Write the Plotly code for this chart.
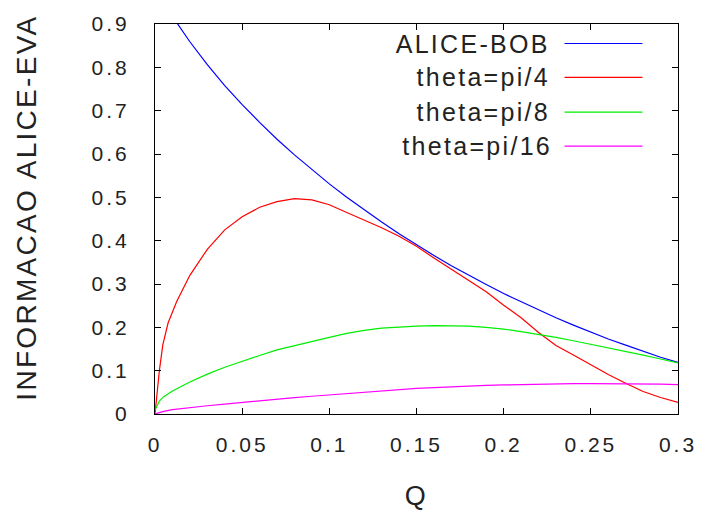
import plotly.graph_objects as go

# ---- data ----
q_bob = [0.01, 0.0125, 0.02, 0.03, 0.04, 0.05, 0.06, 0.07, 0.08, 0.09, 0.10,
         0.11, 0.12, 0.13, 0.14, 0.15, 0.16, 0.17, 0.18, 0.19, 0.20,
         0.21, 0.22, 0.23, 0.24, 0.25, 0.26, 0.27, 0.28, 0.29, 0.30]
alice_bob = [0.919, 0.903, 0.859, 0.806, 0.758, 0.714, 0.673, 0.634, 0.598, 0.564, 0.531,
             0.500, 0.471, 0.443, 0.416, 0.390, 0.366, 0.342, 0.320, 0.299, 0.278,
             0.259, 0.240, 0.222, 0.205, 0.189, 0.173, 0.159, 0.145, 0.131, 0.119]

q_pi4 = [0.0, 0.001, 0.0025, 0.0045, 0.0075, 0.0125, 0.02, 0.03, 0.04, 0.05, 0.06,
         0.07, 0.08, 0.09, 0.10, 0.11, 0.12, 0.13, 0.14, 0.15, 0.16, 0.17, 0.18,
         0.19, 0.20, 0.21, 0.22, 0.23, 0.24, 0.25, 0.26, 0.27, 0.28, 0.29, 0.30]
theta_pi4 = [0.0, 0.045, 0.10, 0.16, 0.21, 0.26, 0.32, 0.38, 0.425, 0.455, 0.477,
             0.490, 0.497, 0.494, 0.483, 0.465, 0.448, 0.430, 0.410, 0.387, 0.360, 0.334, 0.308,
             0.282, 0.251, 0.222, 0.188, 0.158, 0.136, 0.113, 0.091, 0.071, 0.052, 0.038, 0.027]

q_pi8 = [0.0, 0.0025, 0.005, 0.01, 0.02, 0.03, 0.04, 0.05, 0.06, 0.07, 0.08, 0.09, 0.10,
         0.11, 0.12, 0.13, 0.14, 0.15, 0.16, 0.17, 0.18, 0.19, 0.20,
         0.21, 0.22, 0.23, 0.24, 0.25, 0.26, 0.27, 0.28, 0.29, 0.30]
theta_pi8 = [0.009, 0.030, 0.040, 0.053, 0.074, 0.092, 0.108, 0.122, 0.135, 0.148, 0.158, 0.168, 0.177,
             0.186, 0.193, 0.198, 0.201, 0.203, 0.204, 0.204, 0.203, 0.200, 0.196,
             0.190, 0.184, 0.177, 0.169, 0.161, 0.153, 0.145, 0.136, 0.127, 0.118]

q_pi16 = [0.0, 0.005, 0.01, 0.02, 0.03, 0.04, 0.05, 0.06, 0.07, 0.08, 0.09, 0.10,
          0.11, 0.12, 0.13, 0.14, 0.15, 0.16, 0.17, 0.18, 0.19, 0.20,
          0.21, 0.22, 0.23, 0.24, 0.25, 0.26, 0.27, 0.28, 0.29, 0.30]
theta_pi16 = [0.0, 0.006, 0.010, 0.015, 0.019, 0.023, 0.027, 0.030, 0.034, 0.038, 0.041, 0.044,
              0.047, 0.051, 0.054, 0.057, 0.059, 0.061, 0.063, 0.065, 0.066, 0.067,
              0.068, 0.069, 0.069, 0.070, 0.070, 0.070, 0.070, 0.069, 0.069, 0.068]

series_names = ["ALICE-BOB", "theta=pi/4", "theta=pi/8", "theta=pi/16"]
series_colors = ["#0000ff", "#ff0000", "#00ee00", "#ff00ff"]
series_x = [q_bob, q_pi4, q_pi8, q_pi16]
series_y = [alice_bob, theta_pi4, theta_pi8, theta_pi16]

x_ticks = [0, 0.05, 0.1, 0.15, 0.2, 0.25, 0.3]
x_ticklabels = ["0", "0.05", "0.1", "0.15", "0.2", "0.25", "0.3"]
y_ticks = [0, 0.1, 0.2, 0.3, 0.4, 0.5, 0.6, 0.7, 0.8, 0.9]
y_ticklabels = ["0", "0.1", "0.2", "0.3", "0.4", "0.5", "0.6", "0.7", "0.8", "0.9"]

FONT = "Liberation Sans, Arial, sans-serif"
TXT = "#222222"

fig = go.Figure()
for xs, ys, name, col in zip(series_x, series_y, series_names, series_colors):
    fig.add_trace(go.Scatter(x=xs, y=ys, mode="lines", name=name,
                             line=dict(color=col, width=1.2), showlegend=False))

# manual gnuplot-style legend (text right-aligned, sample line to the right)
legend_rows_y = [0.950, 0.863, 0.774, 0.687]
for name, col, yy in zip(series_names, series_colors, legend_rows_y):
    fig.add_annotation(x=0.738, y=yy, xref="paper", yref="paper", text=name,
                       showarrow=False, xanchor="right", yanchor="middle",
                       font=dict(family=FONT, size=25, color=TXT))
    fig.add_shape(type="line", xref="paper", yref="paper", x0=0.783, x1=0.932,
                  y0=yy, y1=yy, line=dict(color=col, width=1.2))

# axis titles
fig.add_annotation(x=-0.246, y=0.53, xref="paper", yref="paper", text="INFORMACAO ALICE-EVA",
                   showarrow=False, textangle=-90, xanchor="center", yanchor="middle",
                   font=dict(family=FONT, size=28, color=TXT))
fig.add_annotation(x=0.5, y=-0.21, xref="paper", yref="paper", text="Q",
                   showarrow=False, xanchor="center", yanchor="middle",
                   font=dict(family=FONT, size=27, color=TXT))

axis_common = dict(showline=True, linecolor="black", linewidth=1, mirror="allticks",
                   ticks="inside", ticklen=6, tickcolor="black", tickwidth=1,
                   showgrid=False, zeroline=False,
                   tickfont=dict(family=FONT, size=21, color=TXT))

fig.update_xaxes(range=[0, 0.3], tickvals=x_ticks, ticktext=x_ticklabels,
                 ticklabelstandoff=12, **axis_common)
fig.update_yaxes(range=[0, 0.9], tickvals=y_ticks, ticktext=y_ticklabels,
                 ticklabelstandoff=20, **axis_common)

fig.update_layout(width=705, height=518, autosize=False,
                  margin=dict(l=155, r=21, t=21, b=104),
                  paper_bgcolor="white", plot_bgcolor="white")

post = """
document.documentElement.style.margin = '0';
document.documentElement.style.overflow = 'hidden';
document.body.style.margin = '0';
document.body.style.padding = '0';
document.body.style.overflow = 'hidden';
var gd = document.getElementById('{plot_id}');
gd.style.overflow = 'hidden';
function ls(){
  gd.querySelectorAll('.svg-container, svg.main-svg').forEach(function(e){ e.style.overflow = 'hidden'; });
  gd.querySelectorAll('.xtick text, .ytick text').forEach(function(t){ t.style.letterSpacing = '3px'; });
  gd.querySelectorAll('.annotation text').forEach(function(t){ t.style.letterSpacing = '2.3px'; });
}
ls();
gd.on('plotly_afterplot', ls);
"""
fig.write_html("out.html", post_script=post,
               config={"responsive": False, "displayModeBar": False})
